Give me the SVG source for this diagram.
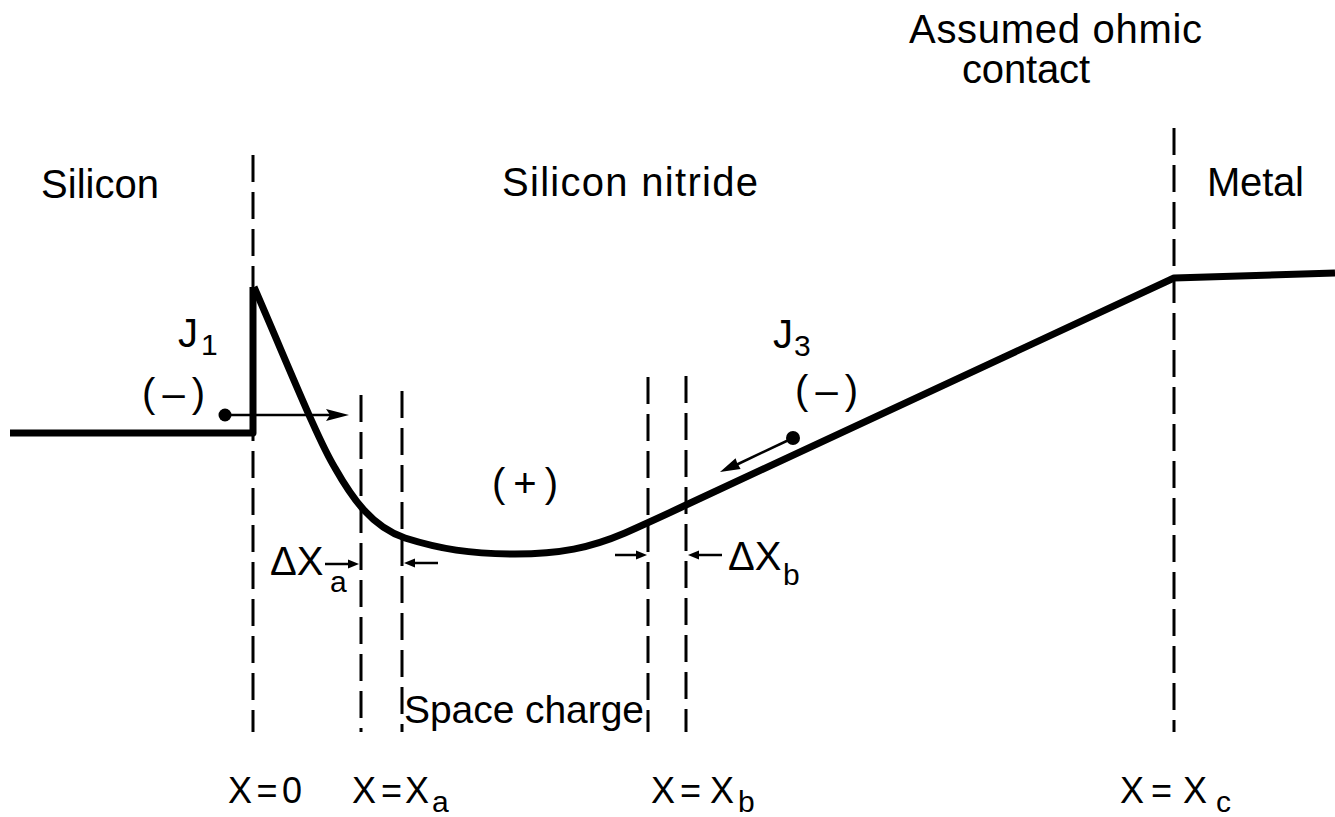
<svg xmlns="http://www.w3.org/2000/svg" width="1335" height="817" viewBox="0 0 1335 817">
<style>
.lbl{font-family:"Liberation Sans",Arial,sans-serif;fill:#000;}
.dash{stroke:#000;stroke-width:3;stroke-dasharray:27 10;fill:none;}
.curve{stroke:#000;stroke-width:7;fill:none;stroke-linejoin:round;}
.thin{stroke:#000;stroke-width:2.5;fill:none;}
</style>
<rect x="0" y="0" width="1335" height="817" fill="#fff"/>
<g id="boundaries">
<line class="dash" x1="253" y1="155" x2="253" y2="732"/>
<line class="dash" x1="361" y1="395" x2="361" y2="732"/>
<line class="dash" x1="402" y1="391" x2="402" y2="732"/>
<line class="dash" x1="648" y1="377" x2="648" y2="732"/>
<line class="dash" x1="686" y1="376" x2="686" y2="732"/>
<line class="dash" x1="1174" y1="128" x2="1174" y2="732"/>
</g>
<g id="band">
<path class="curve" d="M10,433 L253,433 L253,287"/>
<path class="curve" d="M254,287 C 290,370 318,440 335,468 C 352,498 372,527 405,538 C 440,549 470,554 515,554 C 560,554 590,548 625,533 C 645,524 665,515 686,505 L 1174,278 L 1335,273"/>
</g>
<g id="connectors">
<line class="thin" x1="225" y1="415" x2="332" y2="415"/>
<circle cx="225" cy="415" r="6.5" fill="#000"/>
<polygon points="349,415 326,409 330,415 326,421" fill="#000"/>
<line class="thin" x1="793" y1="438" x2="736" y2="465"/>
<circle cx="793" cy="438" r="7" fill="#000"/>
<polygon points="720,472 740.6,469 737,462.5 735.6,458.2" fill="#000"/>
<line class="thin" x1="325" y1="564" x2="350" y2="564"/>
<polygon points="359,564 348,559.5 348,568.5" fill="#000"/>
<line class="thin" x1="413" y1="563" x2="438" y2="563"/>
<polygon points="404,563 415,558.5 415,567.5" fill="#000"/>
<line class="thin" x1="615" y1="555" x2="638" y2="555"/>
<polygon points="647,555 636,550.5 636,559.5" fill="#000"/>
<line class="thin" x1="697" y1="555" x2="722" y2="555"/>
<polygon points="688,555 699,550.5 699,559.5" fill="#000"/>
</g>
<g id="labels">
<text class="lbl" x="909" y="43" font-size="40" textLength="293" lengthAdjust="spacing">Assumed ohmic</text>
<text class="lbl" x="962" y="83" font-size="40" textLength="128" lengthAdjust="spacing">contact</text>
<text class="lbl" x="41" y="198" font-size="40" textLength="118" lengthAdjust="spacing">Silicon</text>
<text class="lbl" x="502" y="196" font-size="40" textLength="256" lengthAdjust="spacing">Silicon nitride</text>
<text class="lbl" x="1207" y="196" font-size="40" textLength="97" lengthAdjust="spacing">Metal</text>
<text class="lbl" x="178" y="347" font-size="40">J<tspan x="201" y="355" font-size="30">1</tspan></text>
<text class="lbl" x="142" y="407" font-size="40" textLength="63" lengthAdjust="spacing">(–)</text>
<text class="lbl" x="492" y="497" font-size="40" textLength="66" lengthAdjust="spacing">(+)</text>
<text class="lbl" x="773" y="348" font-size="40">J<tspan x="794" y="356" font-size="30">3</tspan></text>
<text class="lbl" x="795" y="404" font-size="40" textLength="63" lengthAdjust="spacing">(–)</text>
<text class="lbl" x="270" y="575" font-size="40">ΔX<tspan x="330" y="592" font-size="30">a</tspan></text>
<text class="lbl" x="728" y="570" font-size="40">ΔX<tspan x="783" y="585" font-size="30">b</tspan></text>
<text class="lbl" x="404" y="723" font-size="39" textLength="240" lengthAdjust="spacing">Space charge</text>
<text class="lbl" x="228" y="803" font-size="36" textLength="74" lengthAdjust="spacing">X=0</text>
<text class="lbl" x="352" y="803" font-size="36">X<tspan x="381">=</tspan><tspan x="405">X</tspan><tspan x="432" y="812" font-size="30">a</tspan></text>
<text class="lbl" x="651" y="803" font-size="36">X<tspan x="680">=</tspan><tspan x="710">X</tspan><tspan x="738" y="812" font-size="30">b</tspan></text>
<text class="lbl" x="1120" y="803" font-size="36">X<tspan x="1151">=</tspan><tspan x="1183">X</tspan><tspan x="1216" y="812" font-size="30">c</tspan></text>
</g>
</svg>
